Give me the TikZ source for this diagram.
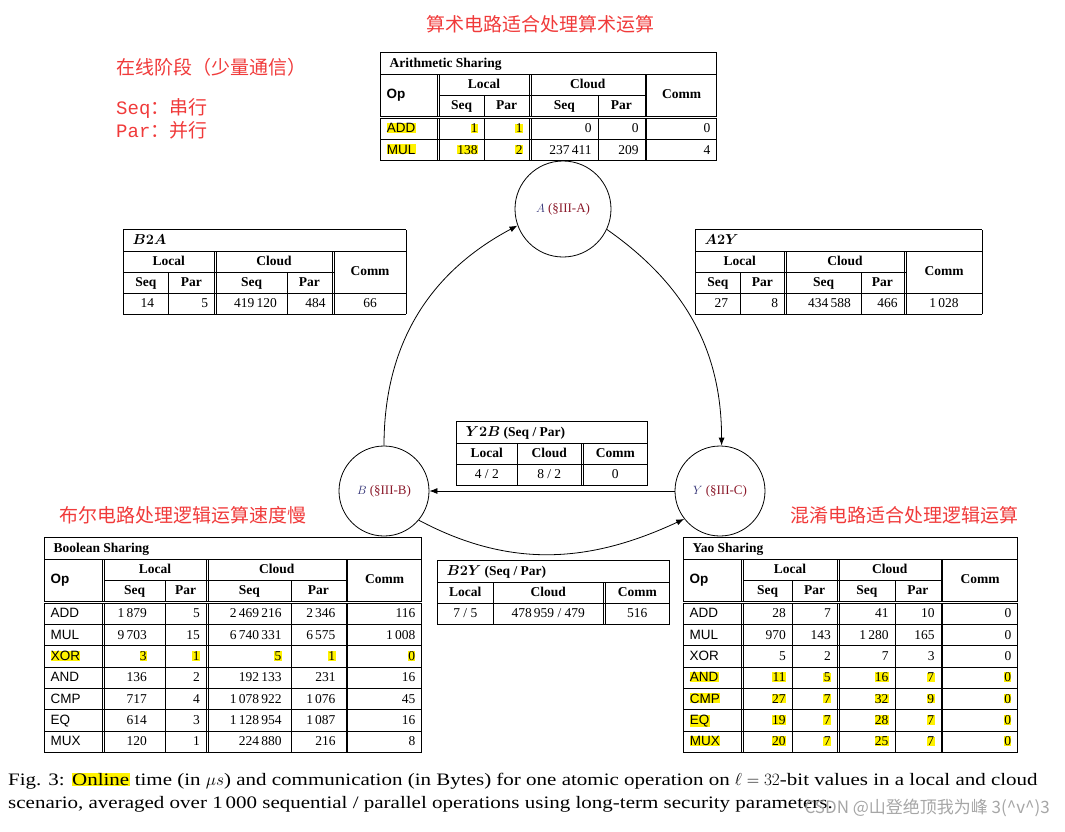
\documentclass[tikz,border=0pt]{standalone}
\usepackage{fontspec}
\usepackage{array}
\usepackage{bm}
\setmainfont{Liberation Serif}
\newfontfamily\opf{Liberation Sans}
\newfontfamily\cjk{Noto Sans CJK SC}
\newfontfamily\monof{Liberation Mono}
\newfontfamily\capf[FakeStretch=1.2]{Liberation Serif}
\usetikzlibrary{arrows.meta}
\definecolor{redtxt}{HTML}{F03A3A}
\definecolor{refred}{HTML}{8B1A2B}
\definecolor{mathblue}{HTML}{2A2A70}
\newcolumntype{R}[1]{>{\raggedleft\arraybackslash}p{#1}<{\hspace*{3pt}}}
\newcolumntype{C}[1]{>{\centering\arraybackslash}p{#1}}
\newcolumntype{L}[1]{>{\raggedright\arraybackslash\opf\hspace*{3pt}}p{#1}}
\newcommand{\hl}[1]{{\fboxsep=0.3pt\colorbox{yellow}{#1}}}
\newcommand{\OpH}{\raisebox{-10pt}[0pt][0pt]{\textbf{Op}}}
\newcommand{\CommH}{\raisebox{-10pt}[0pt][0pt]{\textbf{Comm}}}
\tikzset{
  tbl/.style={anchor=north west, inner sep=0pt},
  st/.style={draw, circle, thick, font=\fontsize{13}{15}\selectfont},
  arr/.style={thick, -{Latex[length=8pt,width=6pt]}},
  redlab/.style={text=redtxt, font=\cjk\fontsize{19}{22}\selectfont, inner sep=0pt},
}
\newcommand{\tfont}{\fontsize{13.5}{13.5}\selectfont}
\begin{document}
\begin{tikzpicture}[x=1pt,y=-1pt]
\useasboundingbox (0,0) rectangle (1065,831);
\setlength{\tabcolsep}{3pt}
\renewcommand{\arraystretch}{1.55}
\setlength{\doublerulesep}{1.5pt}

% circles
\node[st, minimum size=96pt] (A) at (563,209) {$\color{mathblue}A$ {\color{refred}(\S III-A)}};
\node[st, minimum size=90pt] (B) at (384,491) {$\color{mathblue}B$ {\color{refred}(\S III-B)}};
\node[st, minimum size=90pt] (Y) at (720,491) {$\color{mathblue}Y$ {\color{refred}(\S III-C)}};

\draw[arr] (B.north) to[out=90,in=208] (A.200);
\draw[arr] (A.-25) to[out=-35,in=90] (Y.88);
\draw[arr] (Y.west) -- (B.east);
\draw[arr] (B.-40) to[out=-28,in=205] (Y.218);

% Arithmetic
\node[tbl] (arith) at (380,52) {\tfont%
\begin{tabular}{|L{50.5pt}||R{38.5pt}|R{38.5pt}||R{60.5pt}|R{40.5pt}||R{63.5pt}|}
\hline
\multicolumn{6}{|l|}{\hspace*{6pt}\textbf{Arithmetic Sharing}}\\ \hline
\OpH & \multicolumn{2}{c||}{\textbf{Local}} & \multicolumn{2}{c||}{\textbf{Cloud}} & \multicolumn{1}{c|}{\CommH}\\ \cline{2-5}
 & \multicolumn{1}{c|}{\textbf{Seq}} & \multicolumn{1}{c||}{\textbf{Par}} & \multicolumn{1}{c|}{\textbf{Seq}} & \multicolumn{1}{c||}{\textbf{Par}} & \\ \hline\hline
\hl{ADD} & \hl{1} & \hl{1} & 0 & 0 & 0\\ \hline
\hl{MUL} & \hl{138} & \hl{2} & 237\,411 & 209 & 4\\ \hline
\end{tabular}};

% B2A
\node[tbl] (b2a) at (123,229) {\tfont%
\begin{tabular}{|R{38.5pt}|R{39.5pt}||R{64.5pt}|R{38.5pt}||C{66pt}|}
\hline
\multicolumn{5}{|l|}{\hspace*{6pt}$\bm{B2A}$}\\ \hline
\multicolumn{2}{|c||}{\textbf{Local}} & \multicolumn{2}{c||}{\textbf{Cloud}} & \CommH\\ \cline{1-4}
\multicolumn{1}{|c|}{\textbf{Seq}} & \multicolumn{1}{c||}{\textbf{Par}} & \multicolumn{1}{c|}{\textbf{Seq}} & \multicolumn{1}{c||}{\textbf{Par}} & \\ \hline
14\hspace*{8pt} & 5 & 419\,120\hspace*{4pt} & 484 & 66\\ \hline
\end{tabular}};

% A2Y
\node[tbl] (a2y) at (695,229) {\tfont%
\begin{tabular}{|R{38.5pt}|R{37.5pt}||R{68.5pt}|R{36.5pt}||C{70pt}|}
\hline
\multicolumn{5}{|l|}{\hspace*{6pt}$\bm{A2Y}$}\\ \hline
\multicolumn{2}{|c||}{\textbf{Local}} & \multicolumn{2}{c||}{\textbf{Cloud}} & \CommH\\ \cline{1-4}
\multicolumn{1}{|c|}{\textbf{Seq}} & \multicolumn{1}{c||}{\textbf{Par}} & \multicolumn{1}{c|}{\textbf{Seq}} & \multicolumn{1}{c||}{\textbf{Par}} & \\ \hline
27\hspace*{6pt} & 8 & 434\,588\hspace*{4pt} & 466 & 1\,028\\ \hline
\end{tabular}};

% Y2B
\node[tbl] (y2b) at (456,421) {\tfont%
\begin{tabular}{|C{54.5pt}|C{57.5pt}||C{58pt}|}
\hline
\multicolumn{3}{|l|}{\hspace*{6pt}$\bm{Y2B}$ \textbf{(Seq / Par)}}\\ \hline
\textbf{Local} & \textbf{Cloud} & \textbf{Comm}\\ \hline
4 / 2 & 8 / 2 & 0\\ \hline
\end{tabular}};

% B2Y
\node[tbl] (b2y) at (437,560) {\tfont%
\begin{tabular}{|C{49.5pt}|C{103.5pt}||C{58pt}|}
\hline
\multicolumn{3}{|l|}{\hspace*{6pt}$\bm{B2Y}$ \textbf{(Seq / Par)}}\\ \hline
\textbf{Local} & \textbf{Cloud} & \textbf{Comm}\\ \hline
7 / 5 & 478\,959 / 479 & 516\\ \hline
\end{tabular}};

% Boolean
\node[tbl] (bool) at (44,537) {\tfont%
\begin{tabular}{|L{51.5pt}||R{54.5pt}|R{34.5pt}||R{76.5pt}|R{48.5pt}||R{67.5pt}|}
\hline
\multicolumn{6}{|l|}{\hspace*{6pt}\textbf{Boolean Sharing}}\\ \hline
\OpH & \multicolumn{2}{c||}{\textbf{Local}} & \multicolumn{2}{c||}{\textbf{Cloud}} & \multicolumn{1}{c|}{\CommH}\\ \cline{2-5}
 & \multicolumn{1}{c|}{\textbf{Seq}} & \multicolumn{1}{c||}{\textbf{Par}} & \multicolumn{1}{c|}{\textbf{Seq}} & \multicolumn{1}{c||}{\textbf{Par}} & \\ \hline\hline
ADD & 1\,879\hspace*{12pt} & 5 & 2\,469\,216\hspace*{3pt} & 2\,346\hspace*{4pt} & 116\\ \hline
MUL & 9\,703\hspace*{12pt} & 15 & 6\,740\,331\hspace*{3pt} & 6\,575\hspace*{4pt} & 1\,008\\ \hline
\hl{XOR} & \hl{3}\hspace*{12pt} & \hl{1} & \hl{5}\hspace*{3pt} & \hl{1}\hspace*{4pt} & \hl{0}\\ \hline
AND & 136\hspace*{12pt} & 2 & 192\,133\hspace*{3pt} & 231\hspace*{4pt} & 16\\ \hline
CMP & 717\hspace*{12pt} & 4 & 1\,078\,922\hspace*{3pt} & 1\,076\hspace*{4pt} & 45\\ \hline
EQ & 614\hspace*{12pt} & 3 & 1\,128\,954\hspace*{3pt} & 1\,087\hspace*{4pt} & 16\\ \hline
MUX & 120\hspace*{12pt} & 1 & 224\,880\hspace*{3pt} & 216\hspace*{4pt} & 8\\ \hline
\end{tabular}};

% Yao
\node[tbl] (yao) at (683,537) {\tfont%
\begin{tabular}{|L{51.5pt}||R{42.5pt}|R{38.5pt}||R{49.5pt}|R{39.5pt}||R{68.5pt}|}
\hline
\multicolumn{6}{|l|}{\hspace*{6pt}\textbf{Yao Sharing}}\\ \hline
\OpH & \multicolumn{2}{c||}{\textbf{Local}} & \multicolumn{2}{c||}{\textbf{Cloud}} & \multicolumn{1}{c|}{\CommH}\\ \cline{2-5}
 & \multicolumn{1}{c|}{\textbf{Seq}} & \multicolumn{1}{c||}{\textbf{Par}} & \multicolumn{1}{c|}{\textbf{Seq}} & \multicolumn{1}{c||}{\textbf{Par}} & \\ \hline\hline
ADD & 28 & 7 & 41 & 10 & 0\\ \hline
MUL & 970 & 143 & 1\,280 & 165 & 0\\ \hline
XOR & 5 & 2 & 7 & 3 & 0\\ \hline
\hl{AND} & \hl{11} & \hl{5} & \hl{16} & \hl{7} & \hl{0}\\ \hline
\hl{CMP} & \hl{27} & \hl{7} & \hl{32} & \hl{9} & \hl{0}\\ \hline
\hl{EQ} & \hl{19} & \hl{7} & \hl{28} & \hl{7} & \hl{0}\\ \hline
\hl{MUX} & \hl{20} & \hl{7} & \hl{25} & \hl{7} & \hl{0}\\ \hline
\end{tabular}};

% red annotations
\node[redlab] (t1) at (540,24) {算术电路适合处理算术运算};
\node[redlab, anchor=west] (t2) at (116,67) {在线阶段（少量通信）};
\node[redlab, anchor=west] (t3) at (116,108) {{\monof Seq}：串行};
\node[redlab, anchor=west] (t4) at (116,130) {{\monof Par}：并行};
\node[redlab, anchor=west] (t5) at (59,515) {布尔电路处理逻辑运算速度慢};
\node[redlab, anchor=east] (t6) at (1019,515) {混淆电路适合处理逻辑运算};

% caption
\node[anchor=north west, inner sep=0pt, align=left, font=\capf\fontsize{17.5}{22.5}\selectfont] (cap) at (8,773)
 {Fig. 3: \hl{Online} time (in $\mu s$) and communication (in Bytes) for one atomic operation on $\ell=32$-bit values in a local and cloud\\
 scenario, averaged over 1\,000 sequential / parallel operations using long-term security parameters.};
\node[anchor=east, inner sep=0pt, text=black!35, font=\cjk\fontsize{17}{18}\selectfont] (wm) at (1050,808) {CSDN @山登绝顶我为峰 3(\^{}v\^{})3};
\end{tikzpicture}
\end{document}
